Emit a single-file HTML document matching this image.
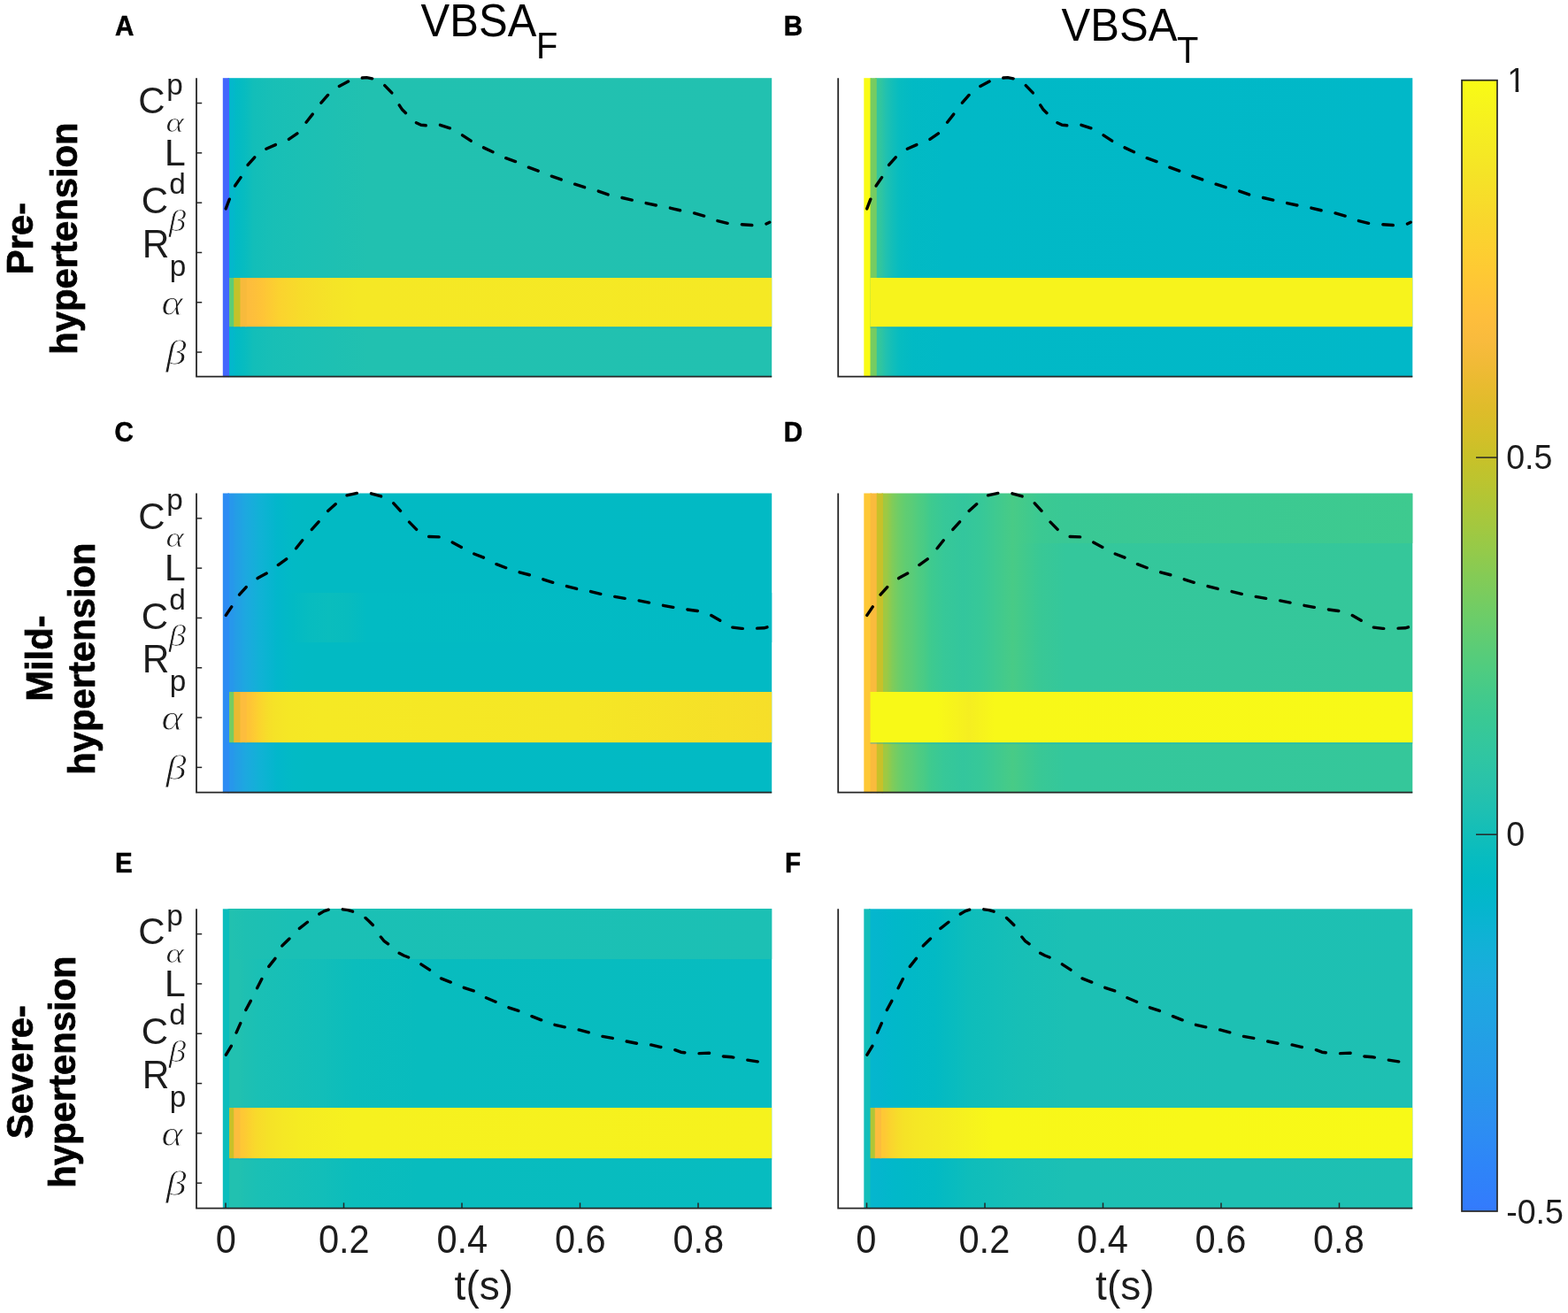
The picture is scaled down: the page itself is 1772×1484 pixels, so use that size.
<!DOCTYPE html>
<html lang="en">
<head>
<meta charset="utf-8">
<title>VBSA sensitivity heat maps</title>
<style>
html,body{margin:0;padding:0;background:#fff}
body{width:1772px;height:1484px;overflow:hidden}
svg{display:block}
text{font-family:"Liberation Sans",Arial,Helvetica,sans-serif;fill:#1c1c1c}
.tk{font-size:41.6px}
.xl{font-size:46px}
.cl{font-size:37.6px}
.yb{font-size:41.6px}
.ys{font-size:33.3px}
.gs{font-family:"Liberation Serif","DejaVu Serif",serif;font-style:italic;font-size:34px;stroke:#fff;stroke-width:0.7px}
.gb{font-family:"Liberation Serif","DejaVu Serif",serif;font-style:italic;font-size:43px;stroke:#fff;stroke-width:0.9px}
.rl{font-size:41.8px;font-weight:bold;fill:#000;stroke:#000;stroke-width:0.7px}
.pl{font-size:29.6px;font-weight:bold;fill:#000;stroke:#000;stroke-width:0.5px}
.tt{font-size:49px;fill:#000}
.ts{font-size:39.8px;fill:#000}
</style>
</head>
<body>
<svg width="1772" height="1484" viewBox="0 0 1772 1484">
<defs>
<linearGradient id="gAd" gradientUnits="userSpaceOnUse" x1="259.01" y1="0" x2="872.20" y2="0"><stop offset="0.0059" stop-color="#03b7cc"/><stop offset="0.0129" stop-color="#02bac5"/><stop offset="0.0282" stop-color="#07bcc0"/><stop offset="0.0447" stop-color="#12beb9"/><stop offset="0.0788" stop-color="#18bfb6"/><stop offset="0.1353" stop-color="#1bc0b4"/><stop offset="0.1941" stop-color="#1ec0b2"/><stop offset="0.2530" stop-color="#21c1b0"/><stop offset="1.0000" stop-color="#22c1b0"/></linearGradient>
<linearGradient id="gA4" gradientUnits="userSpaceOnUse" x1="278.66" y1="0" x2="872.20" y2="0"><stop offset="0.0061" stop-color="#fdbd3d"/><stop offset="0.0304" stop-color="#fec437"/><stop offset="0.0608" stop-color="#fbd22f"/><stop offset="0.1033" stop-color="#f7dc2a"/><stop offset="0.1641" stop-color="#f5e427"/><stop offset="0.2127" stop-color="#f5e825"/><stop offset="1.0000" stop-color="#f5e924"/></linearGradient>
<linearGradient id="gBd" gradientUnits="userSpaceOnUse" x1="990.73" y1="0" x2="1596.30" y2="0"><stop offset="0.0060" stop-color="#33c69d"/><stop offset="0.0179" stop-color="#21c1b0"/><stop offset="0.0298" stop-color="#12beb9"/><stop offset="0.0417" stop-color="#07bcc0"/><stop offset="0.0655" stop-color="#02bac4"/><stop offset="0.1251" stop-color="#01b9c6"/><stop offset="1.0000" stop-color="#01b8c8"/></linearGradient>
<linearGradient id="gB4" gradientUnits="userSpaceOnUse" x1="983.51" y1="0" x2="1596.30" y2="0"><stop offset="0.0059" stop-color="#f7f31c"/><stop offset="1.0000" stop-color="#f7f31c"/></linearGradient>
<linearGradient id="gCd" gradientUnits="userSpaceOnUse" x1="259.01" y1="0" x2="872.20" y2="0"><stop offset="0.0059" stop-color="#2797eb"/><stop offset="0.0106" stop-color="#259ce7"/><stop offset="0.0318" stop-color="#1ca9df"/><stop offset="0.0577" stop-color="#10b2d5"/><stop offset="0.0882" stop-color="#02b7cb"/><stop offset="0.1177" stop-color="#02bac5"/><stop offset="0.1588" stop-color="#02bac3"/><stop offset="1.0000" stop-color="#02bac4"/></linearGradient>
<linearGradient id="gC2" gradientUnits="userSpaceOnUse" x1="259.01" y1="0" x2="872.20" y2="0"><stop offset="0.0059" stop-color="#2797eb"/><stop offset="0.0106" stop-color="#259ce7"/><stop offset="0.0318" stop-color="#1ca9df"/><stop offset="0.0577" stop-color="#10b2d5"/><stop offset="0.0882" stop-color="#02b7cb"/><stop offset="0.1177" stop-color="#02bac4"/><stop offset="0.1471" stop-color="#07bcc0"/><stop offset="0.1824" stop-color="#0abdbd"/><stop offset="0.2177" stop-color="#08bcbe"/><stop offset="0.2530" stop-color="#02bbc3"/><stop offset="1.0000" stop-color="#02bac4"/></linearGradient>
<linearGradient id="gC4" gradientUnits="userSpaceOnUse" x1="278.66" y1="0" x2="872.20" y2="0"><stop offset="0.0061" stop-color="#fec437"/><stop offset="0.0182" stop-color="#fdce31"/><stop offset="0.0304" stop-color="#f9d82c"/><stop offset="0.0425" stop-color="#f6df29"/><stop offset="0.0547" stop-color="#f5e327"/><stop offset="0.0790" stop-color="#f5e725"/><stop offset="0.1398" stop-color="#f5e924"/><stop offset="0.6260" stop-color="#f5e725"/><stop offset="1.0000" stop-color="#f6de29"/></linearGradient>
<linearGradient id="gDd" gradientUnits="userSpaceOnUse" x1="997.94" y1="0" x2="1596.30" y2="0"><stop offset="0.0060" stop-color="#9fc942"/><stop offset="0.0181" stop-color="#7fcc5a"/><stop offset="0.0301" stop-color="#6dcd68"/><stop offset="0.0422" stop-color="#60cd72"/><stop offset="0.0543" stop-color="#5acc78"/><stop offset="0.0663" stop-color="#50cc80"/><stop offset="0.0784" stop-color="#48cb86"/><stop offset="0.0904" stop-color="#3eca8f"/><stop offset="0.1146" stop-color="#37c898"/><stop offset="0.1507" stop-color="#33c69d"/><stop offset="0.1869" stop-color="#37c898"/><stop offset="0.2448" stop-color="#48cb86"/><stop offset="0.2954" stop-color="#39c895"/><stop offset="0.3437" stop-color="#34c79c"/><stop offset="1.0000" stop-color="#35c79a"/></linearGradient>
<linearGradient id="gD0" gradientUnits="userSpaceOnUse" x1="997.94" y1="0" x2="1596.30" y2="0"><stop offset="0.0060" stop-color="#9fc942"/><stop offset="0.0181" stop-color="#7fcc5a"/><stop offset="0.0301" stop-color="#6dcd68"/><stop offset="0.0422" stop-color="#60cd72"/><stop offset="0.0543" stop-color="#5acc78"/><stop offset="0.0663" stop-color="#50cc80"/><stop offset="0.0784" stop-color="#48cb86"/><stop offset="0.0904" stop-color="#3eca8f"/><stop offset="0.1146" stop-color="#37c898"/><stop offset="0.1507" stop-color="#33c69d"/><stop offset="0.1869" stop-color="#37c898"/><stop offset="0.2448" stop-color="#48cb86"/><stop offset="0.2954" stop-color="#3bc992"/><stop offset="0.3437" stop-color="#39c895"/><stop offset="1.0000" stop-color="#3eca8f"/></linearGradient>
<linearGradient id="gD4" gradientUnits="userSpaceOnUse" x1="983.51" y1="0" x2="1596.30" y2="0"><stop offset="0.0059" stop-color="#f8f917"/><stop offset="0.1236" stop-color="#f8f917"/><stop offset="0.1825" stop-color="#f5ee21"/><stop offset="0.2296" stop-color="#f8f818"/><stop offset="1.0000" stop-color="#f8f917"/></linearGradient>
<linearGradient id="gEd" gradientUnits="userSpaceOnUse" x1="259.01" y1="0" x2="872.20" y2="0"><stop offset="0.0059" stop-color="#21c1b0"/><stop offset="0.0176" stop-color="#21c1b0"/><stop offset="0.0294" stop-color="#1ec0b2"/><stop offset="0.0529" stop-color="#1ac0b5"/><stop offset="0.1118" stop-color="#16bfb7"/><stop offset="0.1706" stop-color="#12beb9"/><stop offset="0.2294" stop-color="#0bbdbc"/><stop offset="0.3471" stop-color="#08bcbe"/><stop offset="1.0000" stop-color="#07bcc0"/></linearGradient>
<linearGradient id="gE0" gradientUnits="userSpaceOnUse" x1="259.01" y1="0" x2="872.20" y2="0"><stop offset="0.0059" stop-color="#21c1b0"/><stop offset="0.0294" stop-color="#1ec0b2"/><stop offset="0.1118" stop-color="#1ac0b5"/><stop offset="1.0000" stop-color="#1cc0b4"/></linearGradient>
<linearGradient id="gE4" gradientUnits="userSpaceOnUse" x1="271.44" y1="0" x2="872.20" y2="0"><stop offset="0.0060" stop-color="#fec835"/><stop offset="0.0180" stop-color="#fbd22f"/><stop offset="0.0300" stop-color="#f8da2b"/><stop offset="0.0540" stop-color="#f5e227"/><stop offset="0.0781" stop-color="#f5e725"/><stop offset="0.1141" stop-color="#f5ec22"/><stop offset="0.2102" stop-color="#f6f11f"/><stop offset="1.0000" stop-color="#f6f21d"/></linearGradient>
<linearGradient id="gFd" gradientUnits="userSpaceOnUse" x1="983.51" y1="0" x2="1596.30" y2="0"><stop offset="0.0059" stop-color="#05b6ce"/><stop offset="0.0177" stop-color="#04b6cd"/><stop offset="0.0412" stop-color="#01b8ca"/><stop offset="0.0765" stop-color="#01b9c7"/><stop offset="0.1201" stop-color="#02bac4"/><stop offset="0.1825" stop-color="#0ebdbb"/><stop offset="0.2767" stop-color="#17bfb6"/><stop offset="0.3709" stop-color="#1cc0b4"/><stop offset="1.0000" stop-color="#1ec0b2"/></linearGradient>
<linearGradient id="gF4" gradientUnits="userSpaceOnUse" x1="995.94" y1="0" x2="1596.30" y2="0"><stop offset="0.0060" stop-color="#fec835"/><stop offset="0.0180" stop-color="#fad42e"/><stop offset="0.0300" stop-color="#f7dc2a"/><stop offset="0.0421" stop-color="#f5e227"/><stop offset="0.0661" stop-color="#f5e725"/><stop offset="0.1142" stop-color="#f5ec22"/><stop offset="0.1622" stop-color="#f6f21e"/><stop offset="0.2103" stop-color="#f8f719"/><stop offset="1.0000" stop-color="#f8f917"/></linearGradient>
<linearGradient id="cb" x1="0" y1="0" x2="0" y2="1"><stop offset="0.0000" stop-color="#f9fb15"/><stop offset="0.0208" stop-color="#f7f51b"/><stop offset="0.0417" stop-color="#f6ef20"/><stop offset="0.0625" stop-color="#f5e924"/><stop offset="0.0833" stop-color="#f5e327"/><stop offset="0.1042" stop-color="#f7dd2a"/><stop offset="0.1250" stop-color="#f9d62d"/><stop offset="0.1458" stop-color="#fcd030"/><stop offset="0.1667" stop-color="#feca33"/><stop offset="0.1875" stop-color="#fec437"/><stop offset="0.2083" stop-color="#febe3c"/><stop offset="0.2292" stop-color="#f9bb3d"/><stop offset="0.2500" stop-color="#f1ba37"/><stop offset="0.2708" stop-color="#e8bb2f"/><stop offset="0.2917" stop-color="#debc2a"/><stop offset="0.3125" stop-color="#d4bf28"/><stop offset="0.3333" stop-color="#c8c129"/><stop offset="0.3542" stop-color="#bcc42f"/><stop offset="0.3750" stop-color="#afc637"/><stop offset="0.3958" stop-color="#a2c840"/><stop offset="0.4167" stop-color="#94ca4a"/><stop offset="0.4375" stop-color="#85cb55"/><stop offset="0.4583" stop-color="#77cc60"/><stop offset="0.4792" stop-color="#69cd6b"/><stop offset="0.5000" stop-color="#5ccc76"/><stop offset="0.5208" stop-color="#4fcc80"/><stop offset="0.5417" stop-color="#44ca8a"/><stop offset="0.5625" stop-color="#3ac993"/><stop offset="0.5833" stop-color="#34c79c"/><stop offset="0.6042" stop-color="#2ec5a4"/><stop offset="0.6250" stop-color="#28c2ab"/><stop offset="0.6458" stop-color="#1ec0b2"/><stop offset="0.6667" stop-color="#12beb9"/><stop offset="0.6875" stop-color="#07bcc0"/><stop offset="0.7083" stop-color="#01b9c6"/><stop offset="0.7292" stop-color="#04b6cd"/><stop offset="0.7500" stop-color="#0cb3d3"/><stop offset="0.7708" stop-color="#14b0d8"/><stop offset="0.7917" stop-color="#1aacdd"/><stop offset="0.8125" stop-color="#1ea7e1"/><stop offset="0.8333" stop-color="#21a3e3"/><stop offset="0.8542" stop-color="#249ee6"/><stop offset="0.8750" stop-color="#269ae9"/><stop offset="0.8958" stop-color="#2895ec"/><stop offset="0.9167" stop-color="#2c90f0"/><stop offset="0.9375" stop-color="#2d8bf4"/><stop offset="0.9583" stop-color="#2e85f8"/><stop offset="0.9792" stop-color="#3080fa"/><stop offset="1.0000" stop-color="#347afd"/></linearGradient>
</defs>
<rect x="257.51" y="88.20" width="614.69" height="337.90" fill="url(#gAd)"/>
<rect x="251.80" y="88.20" width="7.21" height="337.90" fill="#4367fd"/>
<rect x="277.16" y="314.00" width="595.04" height="55.40" fill="url(#gA4)"/>
<rect x="259.01" y="314.00" width="6.72" height="55.40" fill="#5ccc76"/>
<rect x="264.23" y="314.00" width="8.71" height="55.40" fill="#c4c22a"/>
<rect x="271.44" y="314.00" width="7.22" height="55.40" fill="#f7ba3c"/>
<rect x="259.01" y="369.40" width="613.19" height="1.3" fill="#00a9d6" opacity="0.5"/>
<path d="M255.2 235.9L259.4 224.9L265.7 209.8L272.5 199.9L279.8 186.8L288.1 177.4L300.1 168.6L312.1 163.3L326.2 157.6L336.7 150.3L345.6 138.8L353.9 128.3L362.8 116.3L371.1 106.9L383.2 97.5L394.1 91.8L401.5 89.3L408.6 88.1L414.4 87.6L421.7 89.0L428.5 92.2L434.6 96.5L443.7 105.9L451.1 118.6L454.7 124.1L459.2 128.4L464.5 134.0L469.6 138.3L475.8 141.3L482.5 141.9L489.5 141.0L496.6 141.0L509.8 145.3L521.7 152.2L532.6 159.5L546.1 166.7L557.8 172.1L570.8 178.4L583.5 182.9L596.1 188.7L608.8 193.4L622.3 198.8L634.9 203.2L648.5 207.9L661.1 211.8L675.6 215.8L687.3 220.0L701.8 223.2L715.3 226.3L729.8 229.5L742.4 232.2L756.8 234.9L769.5 238.0L783.9 240.7L796.6 244.3L810.1 249.4L822.8 252.5L837.2 253.7L850.7 254.6L865.2 253.4L869.7 251.2" fill="none" stroke="#000" stroke-width="3.4" stroke-linejoin="round" stroke-linecap="round" stroke-dasharray="11.5 16.3"/>
<path d="M222.00 88.20V425.60H872.20" fill="none" stroke="#262626" stroke-width="1.8"/>
<path d="M222.00 116.55h6.2" stroke="#262626" stroke-width="1.5"/>
<path d="M222.00 172.85h6.2" stroke="#262626" stroke-width="1.5"/>
<path d="M222.00 229.15h6.2" stroke="#262626" stroke-width="1.5"/>
<path d="M222.00 285.45h6.2" stroke="#262626" stroke-width="1.5"/>
<path d="M222.00 341.75h6.2" stroke="#262626" stroke-width="1.5"/>
<path d="M222.00 398.05h6.2" stroke="#262626" stroke-width="1.5"/>
<rect x="989.23" y="88.20" width="607.07" height="337.90" fill="url(#gBd)"/>
<rect x="976.30" y="88.20" width="8.72" height="337.90" fill="#f9fb15"/>
<rect x="983.51" y="88.20" width="7.21" height="337.90" fill="#76cc61"/>
<rect x="983.51" y="314.00" width="612.78" height="55.40" fill="url(#gB4)"/>
<rect x="983.51" y="369.40" width="612.78" height="1.3" fill="#00a9d6" opacity="0.5"/>
<path d="M979.7 235.9L983.9 224.9L990.2 209.8L997.0 199.9L1004.3 186.8L1012.6 177.4L1024.6 168.6L1036.6 163.3L1050.7 157.6L1061.2 150.3L1070.1 138.8L1078.4 128.3L1087.3 116.3L1095.6 106.9L1107.7 97.5L1118.6 91.8L1126.0 89.3L1133.1 88.1L1138.9 87.6L1146.2 89.0L1153.0 92.2L1159.1 96.5L1168.2 105.9L1175.6 118.6L1179.2 124.1L1183.7 128.4L1189.0 134.0L1194.1 138.3L1200.3 141.3L1207.0 141.9L1214.0 141.0L1221.1 141.0L1234.3 145.3L1246.2 152.2L1257.1 159.5L1270.6 166.7L1282.3 172.1L1295.3 178.4L1308.0 182.9L1320.6 188.7L1333.3 193.4L1346.8 198.8L1359.4 203.2L1373.0 207.9L1385.6 211.8L1400.1 215.8L1411.8 220.0L1426.3 223.2L1439.8 226.3L1454.3 229.5L1466.9 232.2L1481.3 234.9L1494.0 238.0L1508.4 240.7L1521.1 244.3L1534.6 249.4L1547.3 252.5L1561.7 253.7L1575.2 254.6L1589.7 253.4L1594.2 251.2" fill="none" stroke="#000" stroke-width="3.4" stroke-linejoin="round" stroke-linecap="round" stroke-dasharray="11.5 16.3"/>
<path d="M947.20 88.20V425.60H1596.30" fill="none" stroke="#262626" stroke-width="1.8"/>
<rect x="257.51" y="557.50" width="614.69" height="338.70" fill="url(#gCd)"/>
<rect x="251.80" y="557.50" width="7.21" height="338.70" fill="#2d8cf3"/>
<rect x="259.01" y="670.00" width="613.19" height="56.00" fill="url(#gC2)"/>
<rect x="277.16" y="782.00" width="595.04" height="57.30" fill="url(#gC4)"/>
<rect x="259.01" y="782.00" width="6.72" height="57.30" fill="#76cc61"/>
<rect x="264.23" y="782.00" width="8.71" height="57.30" fill="#eaba31"/>
<rect x="271.44" y="782.00" width="7.22" height="57.30" fill="#fdbd3d"/>
<rect x="259.01" y="839.30" width="613.19" height="1.3" fill="#00a9d6" opacity="0.5"/>
<path d="M255.3 695.4L262.6 684.5L270.7 671.9L278.8 662.9L291.5 653.3L302.3 647.5L314.0 638.8L324.9 630.9L334.8 619.5L342.9 609.2L352.0 598.8L361.0 588.8L370.0 578.0L380.0 569.0L391.7 559.9L404.3 557.2L418.8 557.6L431.4 561.2L444.1 568.1L453.1 578.0L461.2 588.8L471.1 598.8L483.8 606.5L496.4 606.9L510.0 612.3L521.7 618.6L535.3 625.8L547.0 630.4L560.0 637.3L572.6 642.1L586.2 646.6L598.8 649.9L612.4 654.4L625.0 658.4L639.5 662.3L652.1 665.6L666.5 668.3L679.2 671.4L693.6 674.2L706.3 676.4L721.6 678.8L734.3 681.3L748.7 684.2L760.5 686.3L774.9 688.7L788.4 690.5L802.0 694.5L813.7 701.3L826.4 708.9L838.1 710.4L853.5 710.2L863.4 709.8L867.9 708.6" fill="none" stroke="#000" stroke-width="3.4" stroke-linejoin="round" stroke-linecap="round" stroke-dasharray="11.5 16.3"/>
<path d="M222.00 557.50V895.70H872.20" fill="none" stroke="#262626" stroke-width="1.8"/>
<path d="M222.00 585.85h6.2" stroke="#262626" stroke-width="1.5"/>
<path d="M222.00 642.15h6.2" stroke="#262626" stroke-width="1.5"/>
<path d="M222.00 698.45h6.2" stroke="#262626" stroke-width="1.5"/>
<path d="M222.00 754.75h6.2" stroke="#262626" stroke-width="1.5"/>
<path d="M222.00 811.05h6.2" stroke="#262626" stroke-width="1.5"/>
<path d="M222.00 867.35h6.2" stroke="#262626" stroke-width="1.5"/>
<rect x="996.44" y="557.50" width="599.86" height="338.70" fill="url(#gDd)"/>
<rect x="976.30" y="557.50" width="8.72" height="338.70" fill="#fec835"/>
<rect x="983.51" y="557.50" width="8.71" height="338.70" fill="#fabb3d"/>
<rect x="990.73" y="557.50" width="7.22" height="338.70" fill="#c8c129"/>
<rect x="997.94" y="558.00" width="598.36" height="56.00" fill="url(#gD0)"/>
<rect x="983.51" y="782.00" width="612.78" height="57.30" fill="url(#gD4)"/>
<rect x="983.51" y="839.30" width="612.78" height="1.3" fill="#00a9d6" opacity="0.5"/>
<path d="M979.8 695.4L987.1 684.5L995.2 671.9L1003.3 662.9L1016.0 653.3L1026.8 647.5L1038.5 638.8L1049.4 630.9L1059.3 619.5L1067.4 609.2L1076.5 598.8L1085.5 588.8L1094.5 578.0L1104.5 569.0L1116.2 559.9L1128.8 557.2L1143.3 557.6L1155.9 561.2L1168.6 568.1L1177.6 578.0L1185.7 588.8L1195.6 598.8L1208.3 606.5L1220.9 606.9L1234.5 612.3L1246.2 618.6L1259.8 625.8L1271.5 630.4L1284.5 637.3L1297.1 642.1L1310.7 646.6L1323.3 649.9L1336.9 654.4L1349.5 658.4L1364.0 662.3L1376.6 665.6L1391.0 668.3L1403.7 671.4L1418.1 674.2L1430.8 676.4L1446.1 678.8L1458.8 681.3L1473.2 684.2L1485.0 686.3L1499.4 688.7L1512.9 690.5L1526.5 694.5L1538.2 701.3L1550.9 708.9L1562.6 710.4L1578.0 710.2L1587.9 709.8L1592.4 708.6" fill="none" stroke="#000" stroke-width="3.4" stroke-linejoin="round" stroke-linecap="round" stroke-dasharray="11.5 16.3"/>
<path d="M947.20 557.50V895.70H1596.30" fill="none" stroke="#262626" stroke-width="1.8"/>
<rect x="257.51" y="1027.30" width="614.69" height="338.80" fill="url(#gEd)"/>
<rect x="251.80" y="1027.30" width="7.21" height="338.80" fill="#0bbdbc"/>
<rect x="259.01" y="1027.00" width="613.19" height="57.00" fill="url(#gE0)"/>
<rect x="269.94" y="1252.00" width="602.26" height="57.30" fill="url(#gE4)"/>
<rect x="259.01" y="1252.00" width="6.72" height="57.30" fill="#c8c129"/>
<rect x="264.23" y="1252.00" width="7.21" height="57.30" fill="#fcbd3d"/>
<rect x="259.01" y="1309.30" width="613.19" height="1.3" fill="#00a9d6" opacity="0.5"/>
<path d="M255.4 1192.2L261.9 1181.3L266.7 1167.9L272.1 1155.8L277.5 1142.0L284.0 1130.0L290.4 1117.2L296.6 1105.0L303.4 1092.9L311.6 1082.5L319.0 1068.7L327.8 1060.1L338.2 1049.5L348.1 1041.7L360.7 1033.1L366.1 1029.9L371.5 1028.1L379.0 1026.8L386.4 1027.7L393.2 1028.6L399.1 1030.4L405.8 1033.2L412.2 1036.7L417.1 1041.2L422.1 1046.2L426.3 1052.5L430.2 1058.8L433.8 1063.3L438.8 1067.0L444.5 1072.3L450.5 1076.9L456.4 1080.0L462.3 1082.3L475.4 1089.5L485.8 1096.3L498.2 1105.8L510.9 1110.7L523.5 1116.1L536.2 1120.2L548.8 1127.5L560.0 1132.2L573.5 1138.3L587.1 1142.8L599.7 1148.2L612.4 1153.1L625.9 1158.1L638.6 1160.9L653.9 1163.9L666.5 1167.2L680.1 1171.3L692.7 1173.5L707.2 1176.8L719.8 1179.3L733.4 1180.4L746.0 1183.4L761.4 1186.1L769.5 1189.2L778.5 1190.4L788.4 1190.7L801.1 1190.1L814.6 1193.7L827.3 1194.8L843.5 1197.9L856.2 1199.9" fill="none" stroke="#000" stroke-width="3.4" stroke-linejoin="round" stroke-linecap="round" stroke-dasharray="11.5 16.3"/>
<path d="M222.00 1027.30V1365.60H872.20" fill="none" stroke="#262626" stroke-width="1.8"/>
<path d="M222.00 1055.65h6.2" stroke="#262626" stroke-width="1.5"/>
<path d="M222.00 1111.95h6.2" stroke="#262626" stroke-width="1.5"/>
<path d="M222.00 1168.25h6.2" stroke="#262626" stroke-width="1.5"/>
<path d="M222.00 1224.55h6.2" stroke="#262626" stroke-width="1.5"/>
<path d="M222.00 1280.85h6.2" stroke="#262626" stroke-width="1.5"/>
<path d="M222.00 1337.15h6.2" stroke="#262626" stroke-width="1.5"/>
<path d="M255.00 1365.60v-6.2" stroke="#262626" stroke-width="1.5"/>
<text class="tk" transform="translate(255.30 1415.60) scale(1.000 1.045)" text-anchor="middle">0</text>
<path d="M388.50 1365.60v-6.2" stroke="#262626" stroke-width="1.5"/>
<text class="tk" transform="translate(388.80 1415.60) scale(1.000 1.045)" text-anchor="middle">0.2</text>
<path d="M522.00 1365.60v-6.2" stroke="#262626" stroke-width="1.5"/>
<text class="tk" transform="translate(522.30 1415.60) scale(1.000 1.045)" text-anchor="middle">0.4</text>
<path d="M655.50 1365.60v-6.2" stroke="#262626" stroke-width="1.5"/>
<text class="tk" transform="translate(655.80 1415.60) scale(1.000 1.045)" text-anchor="middle">0.6</text>
<path d="M789.00 1365.60v-6.2" stroke="#262626" stroke-width="1.5"/>
<text class="tk" transform="translate(789.30 1415.60) scale(1.000 1.045)" text-anchor="middle">0.8</text>
<text class="xl" transform="translate(546.80 1468.60)" text-anchor="middle">t(s)</text>
<rect x="982.01" y="1027.30" width="614.28" height="338.80" fill="url(#gFd)"/>
<rect x="976.30" y="1027.30" width="7.22" height="338.80" fill="#12beb9"/>
<rect x="994.44" y="1252.00" width="601.86" height="57.30" fill="url(#gF4)"/>
<rect x="983.51" y="1252.00" width="6.71" height="57.30" fill="#b0c636"/>
<rect x="988.73" y="1252.00" width="7.22" height="57.30" fill="#fcbc3d"/>
<rect x="983.51" y="1309.30" width="612.78" height="1.3" fill="#00a9d6" opacity="0.5"/>
<path d="M979.9 1192.2L986.4 1181.3L991.2 1167.9L996.6 1155.8L1002.0 1142.0L1008.5 1130.0L1014.9 1117.2L1021.1 1105.0L1027.9 1092.9L1036.1 1082.5L1043.5 1068.7L1052.3 1060.1L1062.7 1049.5L1072.6 1041.7L1085.2 1033.1L1090.6 1029.9L1096.0 1028.1L1103.5 1026.8L1110.9 1027.7L1117.7 1028.6L1123.6 1030.4L1130.3 1033.2L1136.7 1036.7L1141.6 1041.2L1146.6 1046.2L1150.8 1052.5L1154.7 1058.8L1158.3 1063.3L1163.3 1067.0L1169.0 1072.3L1175.0 1076.9L1180.9 1080.0L1186.8 1082.3L1199.9 1089.5L1210.3 1096.3L1222.7 1105.8L1235.4 1110.7L1248.0 1116.1L1260.7 1120.2L1273.3 1127.5L1284.5 1132.2L1298.0 1138.3L1311.6 1142.8L1324.2 1148.2L1336.9 1153.1L1350.4 1158.1L1363.1 1160.9L1378.4 1163.9L1391.0 1167.2L1404.6 1171.3L1417.2 1173.5L1431.7 1176.8L1444.3 1179.3L1457.9 1180.4L1470.5 1183.4L1485.9 1186.1L1494.0 1189.2L1503.0 1190.4L1512.9 1190.7L1525.6 1190.1L1539.1 1193.7L1551.8 1194.8L1568.0 1197.9L1580.7 1199.9" fill="none" stroke="#000" stroke-width="3.4" stroke-linejoin="round" stroke-linecap="round" stroke-dasharray="11.5 16.3"/>
<path d="M947.20 1027.30V1365.60H1596.30" fill="none" stroke="#262626" stroke-width="1.8"/>
<path d="M979.50 1365.60v-6.2" stroke="#262626" stroke-width="1.5"/>
<text class="tk" transform="translate(978.90 1415.60) scale(1.000 1.045)" text-anchor="middle">0</text>
<path d="M1113.00 1365.60v-6.2" stroke="#262626" stroke-width="1.5"/>
<text class="tk" transform="translate(1112.40 1415.60) scale(1.000 1.045)" text-anchor="middle">0.2</text>
<path d="M1246.50 1365.60v-6.2" stroke="#262626" stroke-width="1.5"/>
<text class="tk" transform="translate(1245.90 1415.60) scale(1.000 1.045)" text-anchor="middle">0.4</text>
<path d="M1380.00 1365.60v-6.2" stroke="#262626" stroke-width="1.5"/>
<text class="tk" transform="translate(1379.40 1415.60) scale(1.000 1.045)" text-anchor="middle">0.6</text>
<path d="M1513.50 1365.60v-6.2" stroke="#262626" stroke-width="1.5"/>
<text class="tk" transform="translate(1512.90 1415.60) scale(1.000 1.045)" text-anchor="middle">0.8</text>
<text class="xl" transform="translate(1271.30 1468.60)" text-anchor="middle">t(s)</text>
<text class="yb" transform="translate(156.20 128.20) scale(1.010 1.035)">C</text>
<text class="ys" transform="translate(188.30 106.60)">p</text>
<text class="gs" transform="translate(187.60 149.00) scale(1.130 0.950)">α</text>
<text class="yb" transform="translate(185.80 186.90) scale(1.040 1.030)">L</text>
<text class="yb" transform="translate(159.80 241.20) scale(1.010 1.035)">C</text>
<text class="ys" transform="translate(191.30 219.30)">d</text>
<text class="gs" transform="translate(190.80 260.80) scale(1.150 0.960)">β</text>
<text class="yb" transform="translate(160.80 291.00) scale(1.020 1.045)">R</text>
<text class="ys" transform="translate(191.70 311.60)">p</text>
<text class="gb" transform="translate(182.60 356.00) scale(1.080 1.000)">α</text>
<text class="gb" transform="translate(187.60 411.60) scale(1.080 0.950)">β</text>
<text class="yb" transform="translate(156.20 597.50) scale(1.010 1.035)">C</text>
<text class="ys" transform="translate(188.30 575.90)">p</text>
<text class="gs" transform="translate(187.60 618.30) scale(1.130 0.950)">α</text>
<text class="yb" transform="translate(185.80 656.20) scale(1.040 1.030)">L</text>
<text class="yb" transform="translate(159.80 710.50) scale(1.010 1.035)">C</text>
<text class="ys" transform="translate(191.30 688.60)">d</text>
<text class="gs" transform="translate(190.80 730.10) scale(1.150 0.960)">β</text>
<text class="yb" transform="translate(160.80 760.30) scale(1.020 1.045)">R</text>
<text class="ys" transform="translate(191.70 780.90)">p</text>
<text class="gb" transform="translate(182.60 825.30) scale(1.080 1.000)">α</text>
<text class="gb" transform="translate(187.60 880.90) scale(1.080 0.950)">β</text>
<text class="yb" transform="translate(156.20 1067.30) scale(1.010 1.035)">C</text>
<text class="ys" transform="translate(188.30 1045.70)">p</text>
<text class="gs" transform="translate(187.60 1088.10) scale(1.130 0.950)">α</text>
<text class="yb" transform="translate(185.80 1126.00) scale(1.040 1.030)">L</text>
<text class="yb" transform="translate(159.80 1180.30) scale(1.010 1.035)">C</text>
<text class="ys" transform="translate(191.30 1158.40)">d</text>
<text class="gs" transform="translate(190.80 1199.90) scale(1.150 0.960)">β</text>
<text class="yb" transform="translate(160.80 1230.10) scale(1.020 1.045)">R</text>
<text class="ys" transform="translate(191.70 1250.70)">p</text>
<text class="gb" transform="translate(182.60 1295.10) scale(1.080 1.000)">α</text>
<text class="gb" transform="translate(187.60 1350.70) scale(1.080 0.950)">β</text>
<text class="rl" transform="translate(36.80 269.60) rotate(-90) scale(1.000 1.020)" text-anchor="middle">Pre-</text>
<text class="rl" transform="translate(86.50 269.60) rotate(-90)" text-anchor="middle">hypertension</text>
<text class="rl" transform="translate(58.60 744.10) rotate(-90) scale(1.000 1.020)" text-anchor="middle">Mild-</text>
<text class="rl" transform="translate(107.10 744.60) rotate(-90)" text-anchor="middle">hypertension</text>
<text class="rl" transform="translate(37.00 1211.60) rotate(-90) scale(1.000 1.020)" text-anchor="middle">Severe-</text>
<text class="rl" transform="translate(84.50 1211.60) rotate(-90)" text-anchor="middle">hypertension</text>
<text class="pl" transform="translate(130.00 39.70) scale(1.000 1.045)">A</text>
<text class="pl" transform="translate(885.80 39.70) scale(1.000 1.045)">B</text>
<text class="pl" transform="translate(129.60 498.80) scale(1.000 1.045)">C</text>
<text class="pl" transform="translate(885.80 498.80) scale(1.000 1.045)">D</text>
<text class="pl" transform="translate(130.10 985.70) scale(1.000 1.045)">E</text>
<text class="pl" transform="translate(887.10 985.70) scale(1.000 1.045)">F</text>
<text class="tt" transform="translate(475.60 41.00) scale(1.000 1.045)">VBSA</text>
<text class="ts" transform="translate(605.90 65.70) scale(1.000 1.060)">F</text>
<text class="tt" transform="translate(1199.60 46.40) scale(1.000 1.045)">VBSA</text>
<text class="ts" transform="translate(1330.10 70.70) scale(1.000 1.060)">T</text>
<rect x="1652.0" y="90.7" width="40.0" height="1278.3" fill="url(#cb)" stroke="#262626" stroke-width="1.7"/>
<text class="cl" transform="translate(1703.20 104.20) scale(1.000 1.045)">1</text>
<rect x="1703" y="100.6" width="9.6" height="5" fill="#fff"/>
<rect x="1716.25" y="100.6" width="8" height="5" fill="#fff"/>
<path d="M1692.0 517.10h-24" stroke="#262626" stroke-width="1.5"/>
<text class="cl" transform="translate(1702.20 530.30) scale(1.000 1.045)">0.5</text>
<path d="M1692.0 943.20h-24" stroke="#262626" stroke-width="1.5"/>
<text class="cl" transform="translate(1702.20 956.40) scale(1.000 1.045)">0</text>
<text class="cl" transform="translate(1702.20 1382.50) scale(1.000 1.045)">-0.5</text>
</svg>
</body>
</html>
